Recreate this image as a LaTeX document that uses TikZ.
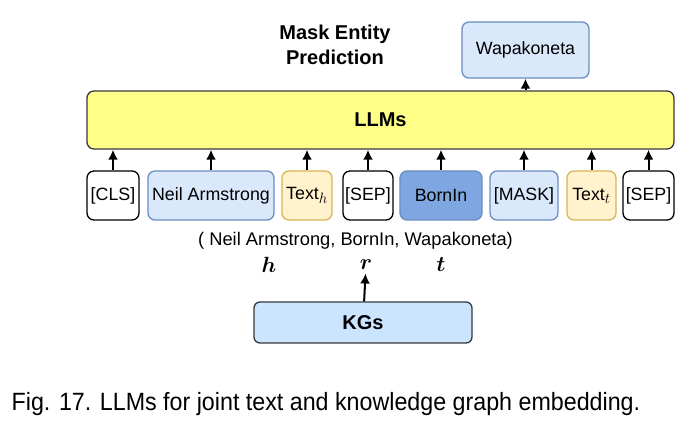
\documentclass[tikz,border=0pt]{standalone}
\usepackage{fix-cm}
\usepackage{amsmath}
\usepackage{fontspec}
\setmainfont{Liberation Sans}
\newfontfamily\capfont[FakeStretch=0.93]{Liberation Sans}
\DeclareMathSizes{17.8}{17.8}{15}{11}
\usetikzlibrary{arrows.meta}
\definecolor{llmfill}{HTML}{FFFF88}
\definecolor{darkline}{HTML}{36393D}
\definecolor{entfill}{HTML}{DAE8FC}
\definecolor{entline}{HTML}{6C8EBF}
\definecolor{txtfill}{HTML}{FFF2CC}
\definecolor{txtline}{HTML}{D6B656}
\definecolor{relfill}{HTML}{7EA6E0}
\definecolor{kgfill}{HTML}{CCE5FF}

\begin{document}
\begin{tikzpicture}[x=1pt,y=-1pt,
  every node/.style={draw,rectangle,rounded corners=7pt,line width=1.3pt,inner sep=0pt,
    font=\fontsize{17.8}{20}\selectfont},
  plain/.style={fill=white,draw=black},
  ent/.style={fill=entfill,draw=entline},
  txt/.style={fill=txtfill,draw=txtline},
  rel/.style={fill=relfill,draw=entline},
  bold/.style={font=\fontsize{20}{24}\selectfont\bfseries},
  free/.style={draw=none,rounded corners=0pt},
  sym/.style={free,font=\fontsize{22}{26}\selectfont,inner sep=3pt},
  feed/.style={draw=black,line width=2pt,-{Latex[length=10pt,width=10pt]}}]
\useasboundingbox (0,0) rectangle (689,430);
\node[bold,fill=llmfill,draw=darkline,minimum width=587,minimum height=58] (l) at (380.5,120) {LLMs};
\node[ent,minimum width=127,minimum height=56]       (w) at (525.5,50)  {Wapakoneta};
\node[free,bold,align=center,font=\fontsize{20}{25}\selectfont\bfseries] (m) at (335,45) {Mask Entity\\Prediction};
\node[plain,minimum width=52,minimum height=49]  (a) at (113,195.5)   {[CLS]};
\node[ent,minimum width=126,minimum height=49]   (b) at (211,195.5)   {Neil Armstrong};
\node[txt,minimum width=50,minimum height=49]    (c) at (307,195.5)   {Text$_h$};
\node[plain,minimum width=50,minimum height=49]  (d) at (368,195.5)   {[SEP]};
\node[rel,minimum width=82,minimum height=49]    (e) at (441,195.5)   {BornIn};
\node[ent,minimum width=68,minimum height=49]    (f) at (524,195.5)   {[MASK]};
\node[txt,minimum width=49,minimum height=49]    (g) at (591.5,195.5) {Text$_t$};
\node[plain,minimum width=51,minimum height=49]  (h) at (648.5,195.5) {[SEP]};
\node[free,font=\fontsize{18.3}{20}\selectfont] (tr) at (355.5,241) {( Neil Armstrong, BornIn, Wapakoneta)};
\node[sym] (hh) at (269,265) {$\boldsymbol{h}$};
\node[sym] (rr) at (366,265) {$\boldsymbol{r}$};
\node[sym] (tt) at (441,265) {$\boldsymbol{t}$};
\node[bold,fill=kgfill,draw=darkline,rounded corners=6pt,minimum width=218,minimum height=41] (k) at (363,322.5) {KGs};
\node[free,anchor=base west,font=\capfont\fontsize{25}{28}\selectfont] (cap) at (11,410.7) {Fig. 17. LLMs for joint text and knowledge graph embedding.};
\draw[feed] (w |- l.north) -- (w.south);
\draw[feed] (a) -- (a |- l.south);
\draw[feed] (b) -- (b |- l.south);
\draw[feed] (c) -- (c |- l.south);
\draw[feed] (d) -- (d |- l.south);
\draw[feed] (e) -- (e |- l.south);
\draw[feed] (f) -- (f |- l.south);
\draw[feed] (g) -- (g |- l.south);
\draw[feed] (h) -- (h |- l.south);
\draw[feed] (k) -- (rr);
\end{tikzpicture}
\end{document}
